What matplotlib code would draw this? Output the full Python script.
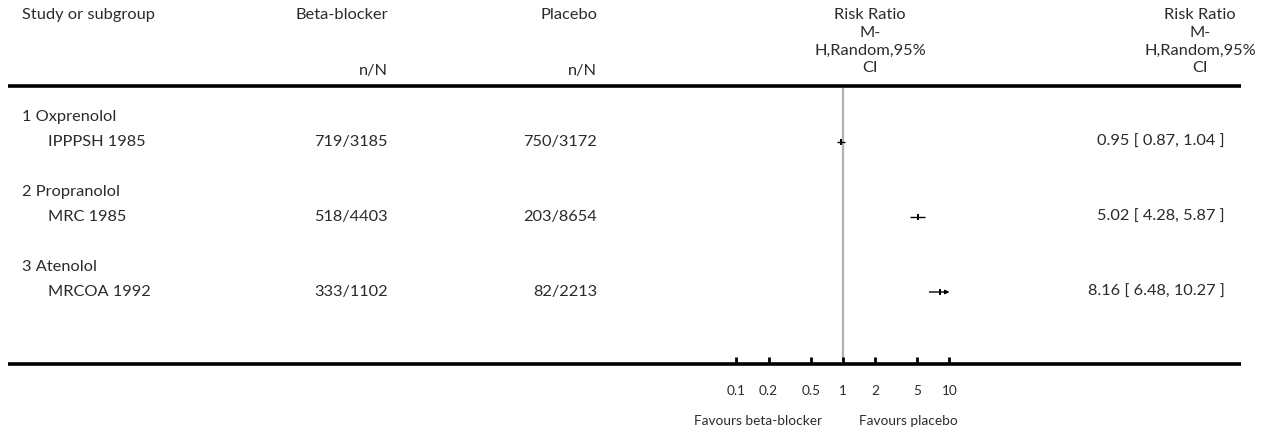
import matplotlib
matplotlib.use("Agg")
import matplotlib.pyplot as plt
from matplotlib.ticker import FixedLocator, FixedFormatter, NullLocator

plt.rcParams["font.family"] = ["Lato", "DejaVu Sans"]

# ── data ────────────────────────────────────────────────────────────
subgroups = ["1 Oxprenolol", "2 Propranolol", "3 Atenolol"]
studies = ["IPPPSH 1985", "MRC 1985", "MRCOA 1992"]
bb_events = ["719/3185", "518/4403", "333/1102"]
pl_events = ["750/3172", "203/8654", "82/2213"]
rr = [0.95, 5.02, 8.16]
ci_lo = [0.87, 4.28, 6.48]
ci_hi = [1.04, 5.87, 10.27]
tick_vals = [0.1, 0.2, 0.5, 1, 2, 5, 10]
tick_labels = ["0.1", "0.2", "0.5", "1", "2", "5", "10"]
hdr_lines = ["Risk Ratio", "M-", "H,Random,95%", "CI"]

W, H = 1270, 433
TXT = "#2b2b2b"
FS = 11.8
FS_SMALL = 9.8

fig = plt.figure(figsize=(W / 100, H / 100), dpi=100, facecolor="white")

# overlay axes in pixel units for the table text and rules
tx = fig.add_axes([0, 0, 1, 1])
tx.set_xlim(0, W)
tx.set_ylim(H, 0)
tx.axis("off")


def row_y(i):
    return 117 + 25 * i


def put(x, y, s, ha="left", fs=FS):
    tx.text(x, y, s, ha=ha, va="center", fontsize=fs, color=TXT)


# header
put(22, 15, "Study or subgroup")
put(388, 15, "Beta-blocker", "right")
put(388, 71, "n/N", "right")
put(597, 15, "Placebo", "right")
put(597, 71, "n/N", "right")
for j, line in enumerate(hdr_lines):
    put(870, 15 + 17.8 * j, line, "center")
    put(1200, 15 + 17.8 * j, line, "center")

tx.plot([8, 1241], [85.5, 85.5], color="black", lw=2.6, solid_capstyle="butt")
tx.plot([8, 1241], [364, 364], color="black", lw=2.6, solid_capstyle="butt")

# rows
for k in range(len(studies)):
    r0 = row_y(3 * k)
    r1 = row_y(3 * k + 1)
    put(22, r0, subgroups[k])
    put(48, r1, studies[k])
    put(388, r1, bb_events[k], "right")
    put(597, r1, pl_events[k], "right")
    put(1225, r1, f"{rr[k]:.2f} [ {ci_lo[k]:.2f}, {ci_hi[k]:.2f} ]", "right")

put(822, 421, "Favours beta-blocker", "right", FS_SMALL)
put(859, 421, "Favours placebo", "left", FS_SMALL)

# forest axes: log scale 0.1 .. 10
x0, x1 = 736.5, 949.5
y_top, y_bot = 88, 364
fa = fig.add_axes([x0 / W, 1 - y_bot / H, (x1 - x0) / W, (y_bot - y_top) / H])
fa.set_xscale("log")
fa.set_xlim(0.1, 10)
fa.set_ylim(y_bot, y_top)
fa.patch.set_alpha(0)
for sp in fa.spines.values():
    sp.set_visible(False)
fa.yaxis.set_major_locator(NullLocator())
fa.xaxis.set_major_locator(FixedLocator(tick_vals))
fa.xaxis.set_major_formatter(FixedFormatter(tick_labels))
fa.xaxis.set_minor_locator(NullLocator())
fa.tick_params(axis="x", direction="in", length=5, width=2, color="black",
               labelsize=FS_SMALL, labelcolor=TXT, pad=15)

fa.axvline(1, color="#b0b0b0", lw=1.6, zorder=1)

for k in range(len(studies)):
    y = row_y(3 * k + 1)
    lo, hi = ci_lo[k], ci_hi[k]
    if hi > 10:
        fa.annotate("", xy=(10, y), xytext=(max(lo, 0.1), y),
                    arrowprops=dict(arrowstyle="-|>", color="black", lw=1,
                                    mutation_scale=6, shrinkA=0, shrinkB=0))
    else:
        fa.plot([lo, hi], [y, y], color="black", lw=1, solid_capstyle="butt")
    fa.plot([rr[k]], [y], marker="|", ms=5, mew=1.4, color="black", zorder=3)

fig.savefig("out.png", dpi=100, facecolor="white")
